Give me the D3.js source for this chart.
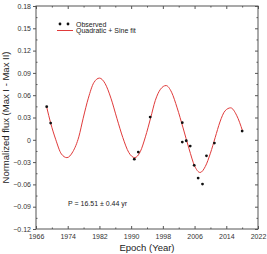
<!DOCTYPE html>
<html>
<head>
<meta charset="utf-8">
<script src="https://cdn.jsdelivr.net/npm/d3@7"></script>
<style>
  body { margin: 0; background: #fff; }
  svg { display: block; font-family: "Liberation Sans", Arial, sans-serif; }
  .axis path, .axis line { stroke: #555; }
  .axis text { fill: #333; font-size: 7px; }
</style>
</head>
<body>
<div id="chart"></div>
<script>
// observed points (epoch, normalized flux)
const obsYear = [1968.7, 1969.7, 1990.8, 1991.8, 1994.8, 2002.9, 2002.9, 2003.9, 2004.9, 2005.9, 2006.9, 2008.0, 2009.0, 2011.0, 2018.0];
const obsFlux = [0.0445, 0.0225, -0.026, -0.0165, 0.0306, 0.023, -0.003, -0.0013, -0.0084, -0.0344, -0.0515, -0.0596, -0.0215, -0.0044, 0.0118];

// fit curve
const fitYear = [1968.7, 1969.7, 1971.0, 1972.4, 1973.8, 1975.3, 1976.8, 1977.9, 1979.2, 1980.6, 1982.0, 1983.4, 1984.9, 1986.4, 1987.9, 1989.4, 1990.9, 1992.3, 1993.6, 1994.9, 1996.1, 1997.4, 1998.8, 2000.2, 2001.6, 2003.1, 2004.6, 2006.0, 2007.4, 2008.7, 2010.0, 2011.2, 2012.4, 2013.7, 2015.1, 2016.6, 2018.1];
const fitFlux = [0.044, 0.0225, 0.0, -0.019, -0.024, -0.016, 0.004, 0.029, 0.056, 0.077, 0.083, 0.076, 0.056, 0.029, 0.003, -0.017, -0.024, -0.016, 0.004, 0.029, 0.053, 0.068, 0.073, 0.064, 0.043, 0.016, -0.012, -0.035, -0.044, -0.036, -0.018, 0.003, 0.024, 0.039, 0.043, 0.033, 0.012];

const xTicks = [1966, 1974, 1982, 1990, 1998, 2006, 2014, 2022];
const yTicks = [-0.12, -0.09, -0.06, -0.03, 0, 0.03, 0.06, 0.09, 0.12, 0.15, 0.18];

const W = 267, H = 254;
const margin = { top: 6, right: 9, bottom: 25, left: 36 },
      width = W - margin.left - margin.right,
      height = H - margin.top - margin.bottom;

const x = d3.scaleLinear().domain([1966, 2022]).range([0, width]);
const y = d3.scaleLinear().domain([-0.12, 0.18]).range([height, 0]);

const svg = d3.select("#chart").append("svg")
    .attr("width", W)
    .attr("height", H);

const g = svg.append("g")
    .attr("transform", "translate(" + margin.left + "," + margin.top + ")");

const fmtY = d => d === 0 ? "0" : d3.format(".2f")(d);

// minor ticks halfway between majors
const xMinor = xTicks.slice(1).map((t, i) => (t + xTicks[i]) / 2);
const yMinor = yTicks.slice(1).map((t, i) => (t + yTicks[i]) / 2);

// bottom: labels, ticks pointing in
g.append("g").attr("class", "axis")
    .attr("transform", "translate(0," + height + ")")
    .call(d3.axisBottom(x).tickValues(xTicks).tickFormat(d3.format("d")).tickSize(0).tickPadding(5))
    .call(a => a.select(".domain").remove());
g.append("g").attr("class", "axis")
    .attr("transform", "translate(0," + height + ")")
    .call(d3.axisTop(x).tickValues(xTicks).tickFormat("").tickSize(3))
    .call(a => a.select(".domain").remove());
g.append("g").attr("class", "axis")
    .attr("transform", "translate(0," + height + ")")
    .call(d3.axisTop(x).tickValues(xMinor).tickFormat("").tickSize(1.5))
    .call(a => a.select(".domain").remove());
// top
g.append("g").attr("class", "axis")
    .call(d3.axisBottom(x).tickValues(xTicks).tickFormat("").tickSize(3))
    .call(a => a.select(".domain").remove());
g.append("g").attr("class", "axis")
    .call(d3.axisBottom(x).tickValues(xMinor).tickFormat("").tickSize(1.5))
    .call(a => a.select(".domain").remove());
// left
g.append("g").attr("class", "axis")
    .call(d3.axisLeft(y).tickValues(yTicks).tickFormat(fmtY).tickSize(3).tickPadding(2))
    .call(a => a.select(".domain").remove());
g.append("g").attr("class", "axis")
    .call(d3.axisRight(y).tickValues(yMinor).tickFormat("").tickSize(1.5))
    .call(a => a.select(".domain").remove());
// right
g.append("g").attr("class", "axis")
    .attr("transform", "translate(" + width + ",0)")
    .call(d3.axisLeft(y).tickValues(yTicks).tickFormat("").tickSize(3))
    .call(a => a.select(".domain").remove());
g.append("g").attr("class", "axis")
    .attr("transform", "translate(" + width + ",0)")
    .call(d3.axisLeft(y).tickValues(yMinor).tickFormat("").tickSize(1.5))
    .call(a => a.select(".domain").remove());

// frame
g.append("rect")
    .attr("width", width).attr("height", height)
    .attr("fill", "none").attr("stroke", "#555").attr("stroke-width", 1);

// fit curve
const fitData = fitYear.map((d, i) => ({ year: d, flux: fitFlux[i] }));
const line = d3.line()
    .x(d => x(d.year))
    .y(d => y(d.flux))
    .curve(d3.curveMonotoneX);

g.append("path")
    .datum(fitData)
    .attr("d", line)
    .attr("fill", "none")
    .attr("stroke", "#e03a3a")
    .attr("stroke-width", 1);

// observed
const obsData = obsYear.map((d, i) => ({ year: d, flux: obsFlux[i] }));
g.selectAll(".pt")
    .data(obsData)
    .enter().append("circle")
    .attr("class", "pt")
    .attr("cx", d => x(d.year))
    .attr("cy", d => y(d.flux))
    .attr("r", 1.4)
    .attr("fill", "#111");

// legend
const lg = svg.append("g");
lg.append("circle").attr("cx", 60).attr("cy", 24).attr("r", 1.4).attr("fill", "#111");
lg.append("circle").attr("cx", 68).attr("cy", 24).attr("r", 1.4).attr("fill", "#111");
lg.append("text").attr("x", 76).attr("y", 26.5).attr("font-size", 7).attr("fill", "#222").text("Observed");
lg.append("line").attr("x1", 57).attr("x2", 73).attr("y1", 30.5).attr("y2", 30.5)
    .attr("stroke", "#e03a3a").attr("stroke-width", 1);
lg.append("text").attr("x", 76).attr("y", 33).attr("font-size", 7).attr("fill", "#222").text("Quadratic + Sine fit");

// period annotation
svg.append("text").attr("x", 68).attr("y", 206).attr("font-size", 7).attr("fill", "#222")
    .text("P = 16.51 ± 0.44 yr");

// axis titles
svg.append("text")
    .attr("x", margin.left + width / 2).attr("y", 251)
    .attr("text-anchor", "middle").attr("font-size", 9.5).attr("fill", "#222")
    .text("Epoch (Year)");
svg.append("text")
    .attr("transform", "translate(9," + (margin.top + height / 2) + ") rotate(-90)")
    .attr("text-anchor", "middle").attr("font-size", 9.5).attr("fill", "#222")
    .text("Normalized flux (Max I - Max II)");
</script>
</body>
</html>
